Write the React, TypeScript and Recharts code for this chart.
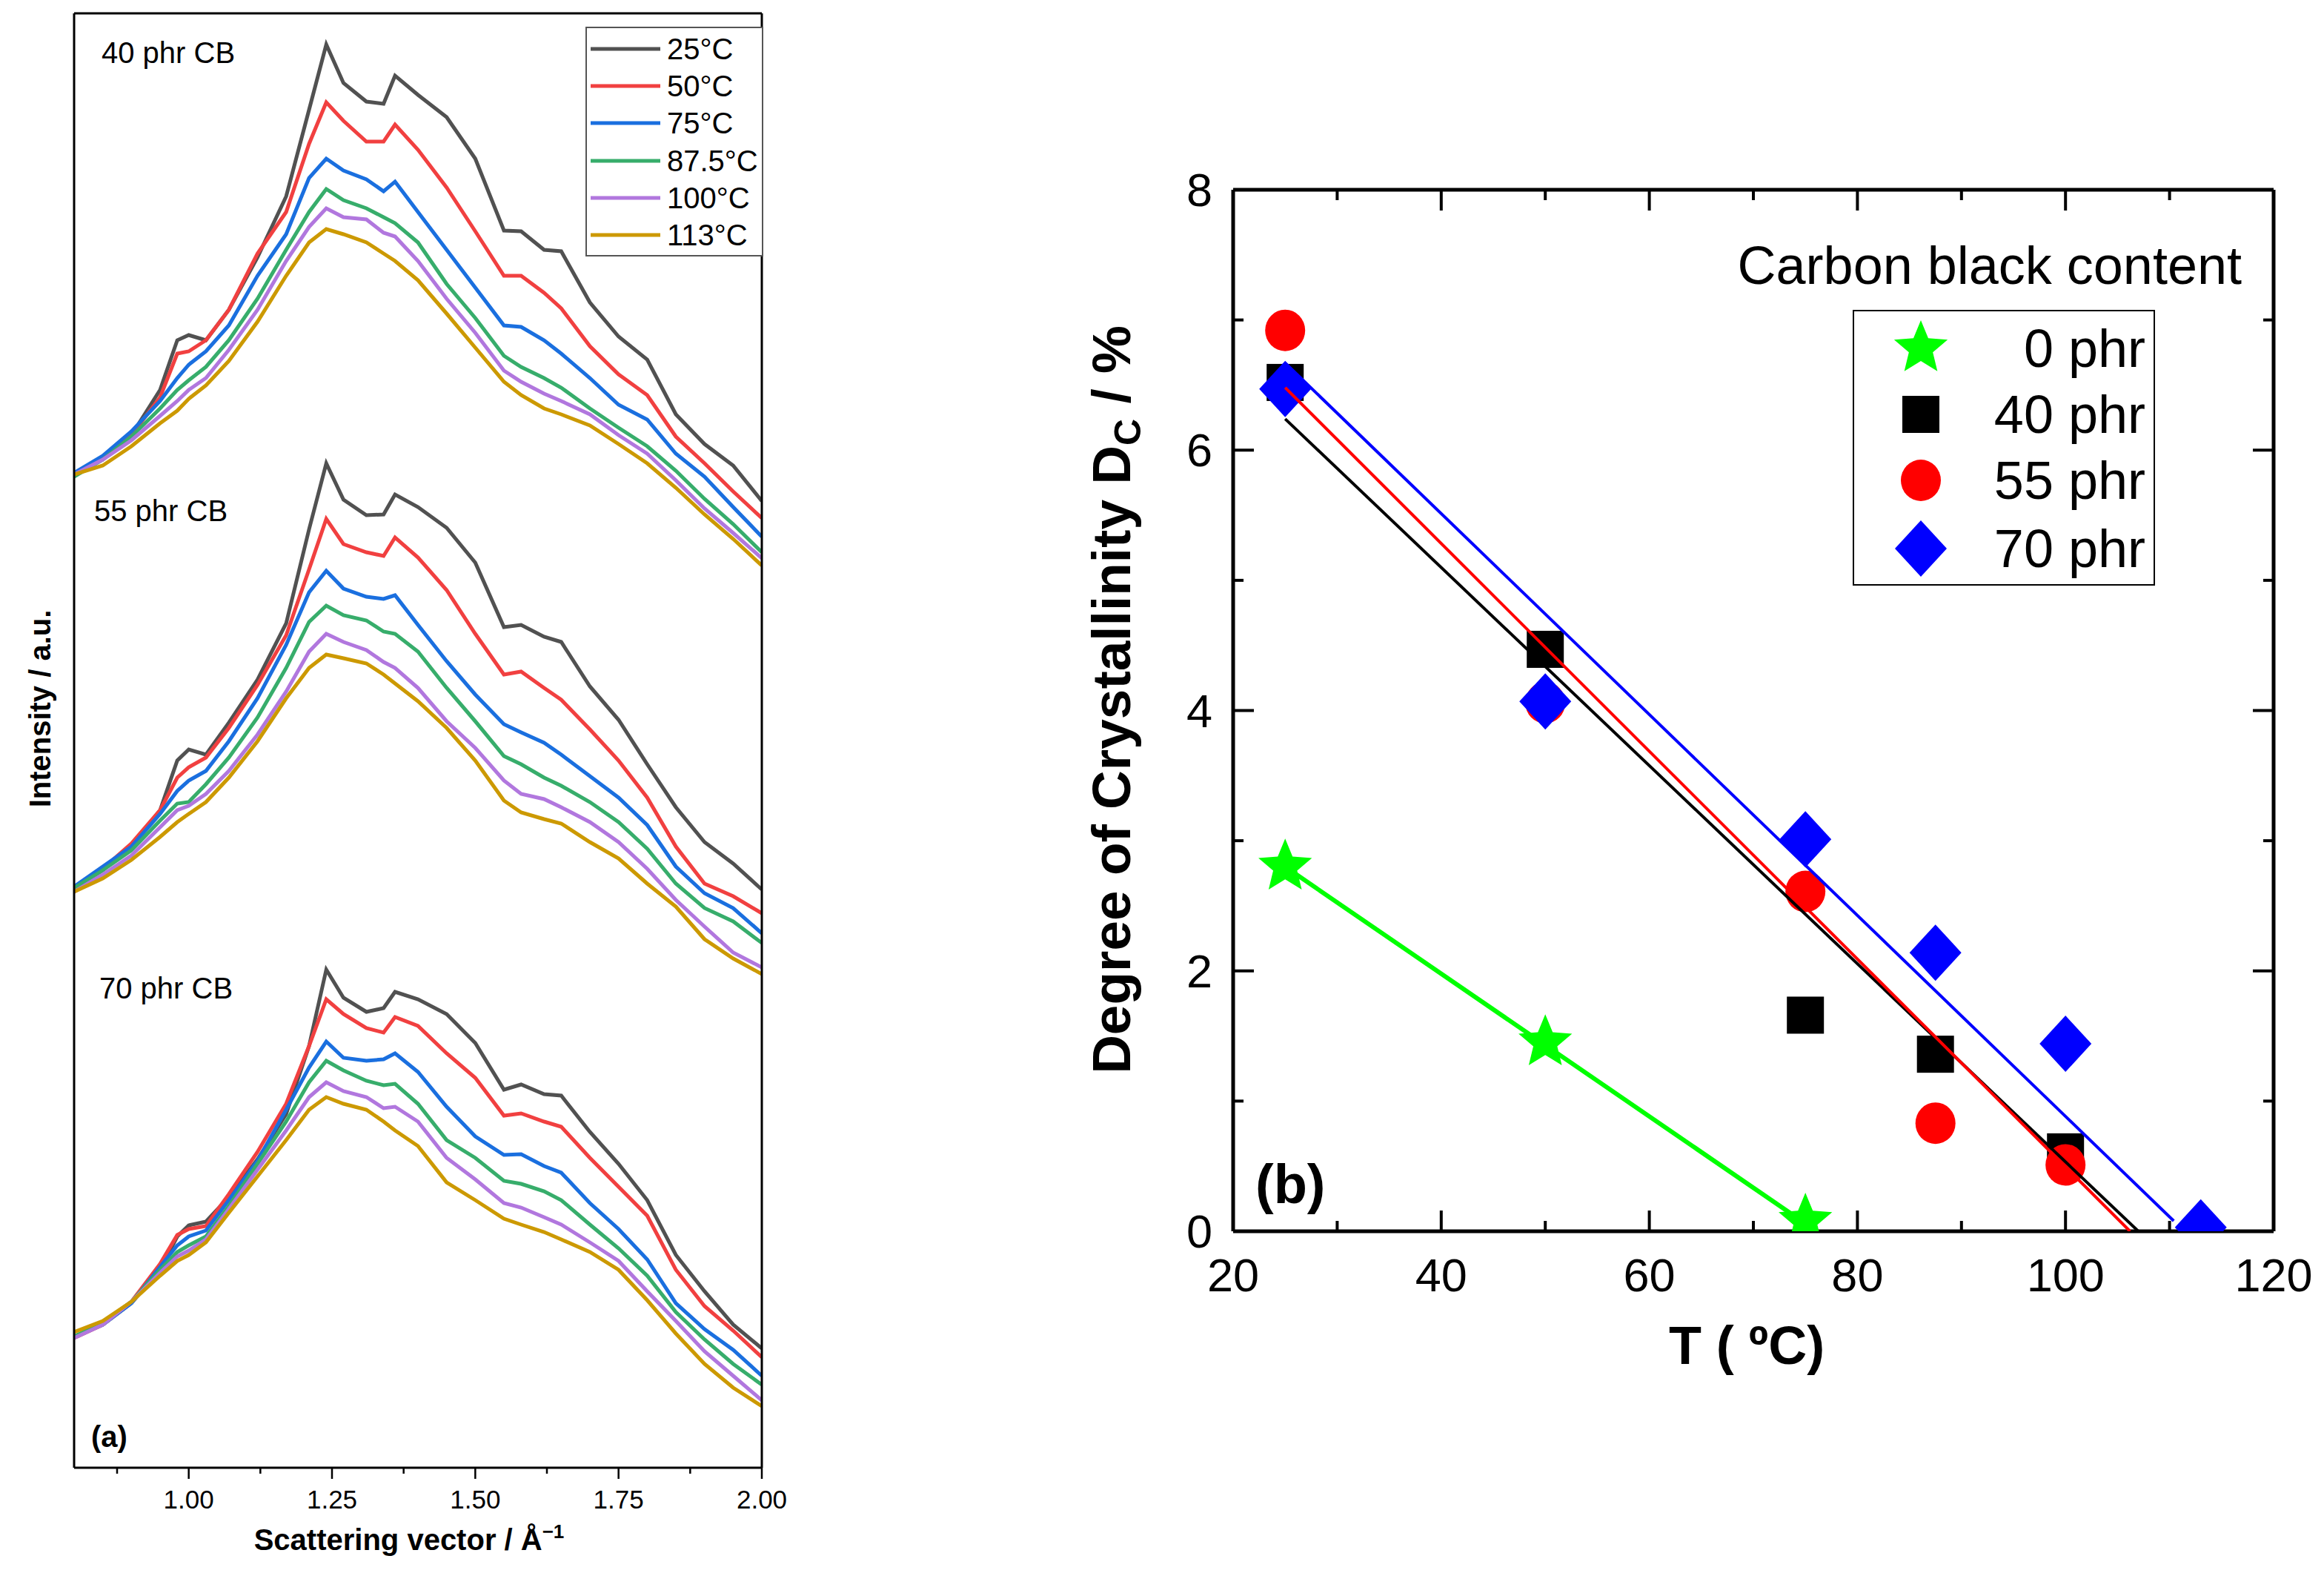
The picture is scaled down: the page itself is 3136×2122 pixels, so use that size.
import React from 'react';
import { LineChart, Line, ComposedChart, Scatter, XAxis, YAxis } from 'recharts';

// ---- panel (a): scattering vector grid and intensities (a.u.) ----
const Q = [0.80, 0.85, 0.90, 0.95, 0.98, 1.00, 1.03, 1.07, 1.12, 1.17, 1.21, 1.24, 1.27, 1.31, 1.34,
  1.36, 1.40, 1.45, 1.50, 1.55, 1.58, 1.62, 1.65, 1.70, 1.75, 1.80, 1.85, 1.90, 1.95, 2.00];

const CB40_25 = [1360, 1380, 1413, 1474, 1541, 1548, 1541, 1582, 1653, 1735, 1852, 1940, 1888, 1863, 1860, 1898, 1872, 1842, 1786, 1689, 1688, 1663, 1661, 1592, 1546, 1515, 1441, 1401, 1372, 1324];
const CB40_50 = [1360, 1380, 1413, 1464, 1523, 1526, 1541, 1582, 1658, 1714, 1806, 1862, 1837, 1809, 1809, 1832, 1798, 1747, 1688, 1628, 1628, 1605, 1584, 1533, 1495, 1467, 1411, 1375, 1337, 1301];
const CB40_75 = [1362, 1385, 1418, 1459, 1490, 1508, 1526, 1561, 1628, 1684, 1760, 1786, 1770, 1758, 1742, 1755, 1714, 1663, 1612, 1561, 1559, 1541, 1523, 1490, 1454, 1434, 1388, 1357, 1316, 1276];
const CB40_87 = [1357, 1380, 1411, 1449, 1474, 1487, 1505, 1541, 1597, 1663, 1714, 1745, 1730, 1719, 1707, 1699, 1673, 1617, 1571, 1520, 1505, 1490, 1477, 1449, 1423, 1398, 1365, 1327, 1293, 1255];
const CB40_100 = [1360, 1380, 1406, 1439, 1459, 1474, 1490, 1528, 1582, 1648, 1694, 1719, 1707, 1704, 1686, 1681, 1648, 1597, 1551, 1500, 1485, 1469, 1459, 1441, 1413, 1388, 1352, 1314, 1281, 1247];
const CB40_113 = [1360, 1372, 1398, 1429, 1446, 1462, 1480, 1513, 1566, 1628, 1673, 1691, 1684, 1673, 1658, 1648, 1622, 1577, 1531, 1485, 1467, 1449, 1441, 1426, 1401, 1375, 1342, 1306, 1273, 1237];

const CB55_25 = [802, 826, 858, 907, 974, 989, 982, 1025, 1083, 1159, 1286, 1375, 1326, 1305, 1306, 1333, 1316, 1288, 1241, 1154, 1157, 1141, 1134, 1074, 1029, 969, 911, 864, 835, 800];
const CB55_50 = [802, 828, 862, 907, 951, 965, 978, 1018, 1076, 1143, 1232, 1300, 1266, 1255, 1250, 1275, 1248, 1204, 1145, 1090, 1094, 1072, 1056, 1016, 974, 924, 858, 808, 791, 768];
const CB55_75 = [804, 831, 858, 902, 933, 947, 960, 1000, 1058, 1130, 1201, 1230, 1206, 1195, 1192, 1197, 1157, 1108, 1063, 1023, 1012, 998, 982, 953, 924, 887, 831, 795, 775, 741];
const CB55_87 = [802, 826, 853, 893, 916, 918, 942, 978, 1032, 1099, 1161, 1183, 1170, 1163, 1148, 1145, 1121, 1072, 1027, 980, 969, 951, 940, 918, 891, 855, 808, 775, 757, 728];
const CB55_100 = [797, 820, 846, 884, 907, 913, 929, 960, 1009, 1067, 1121, 1145, 1134, 1123, 1107, 1099, 1072, 1027, 991, 947, 929, 922, 911, 891, 864, 828, 786, 750, 715, 695];
const CB55_113 = [797, 815, 840, 871, 891, 902, 918, 951, 1000, 1058, 1099, 1117, 1112, 1105, 1090, 1078, 1054, 1018, 974, 920, 904, 895, 889, 864, 842, 808, 777, 733, 707, 686];

const CB70_25 = [197, 213, 242, 287, 332, 347, 352, 385, 436, 497, 589, 692, 654, 635, 640, 662, 652, 632, 593, 530, 537, 524, 522, 473, 430, 381, 307, 258, 213, 181];
const CB70_50 = [195, 213, 244, 295, 334, 342, 346, 389, 446, 511, 589, 652, 632, 613, 607, 628, 616, 579, 546, 495, 498, 487, 480, 438, 399, 360, 287, 238, 205, 169];
const CB70_75 = [197, 213, 242, 291, 320, 332, 340, 381, 434, 503, 560, 595, 573, 569, 571, 579, 554, 507, 467, 442, 443, 427, 418, 377, 342, 301, 242, 207, 179, 144];
const CB70_87 = [197, 216, 244, 287, 311, 320, 332, 373, 430, 487, 540, 569, 556, 542, 536, 538, 511, 462, 438, 407, 403, 393, 381, 348, 316, 279, 230, 193, 160, 132];
const CB70_100 = [195, 213, 244, 283, 305, 313, 328, 369, 422, 475, 520, 540, 528, 520, 505, 507, 487, 438, 409, 377, 371, 358, 348, 324, 299, 258, 218, 177, 144, 111];
const CB70_113 = [203, 218, 244, 279, 299, 307, 324, 364, 413, 462, 503, 520, 511, 503, 487, 475, 454, 405, 381, 356, 348, 338, 328, 311, 287, 246, 201, 160, 128, 103];

const TEMPS = ['25°C', '50°C', '75°C', '87.5°C', '100°C', '113°C'];
const TEMP_COLORS = ['#515151', '#F14040', '#1A6FDF', '#37AD6B', '#B177DE', '#CC9900'];
const Q_TICKS = [0.875, 1.0, 1.125, 1.25, 1.375, 1.5, 1.625, 1.75, 1.875, 2.0];
const Q_LABELS = [1.0, 1.25, 1.5, 1.75, 2.0];

// ---- panel (b): degree of crystallinity vs temperature ----
const T_0 = [25, 50, 75];
const DC_0 = [2.8, 1.45, 0.08];
const T_40 = [25, 50, 75, 87.5, 100];
const DC_40 = [6.52, 4.47, 1.66, 1.36, 0.61];
const T_55 = [25, 50, 75, 87.5, 100];
const DC_55 = [6.92, 4.06, 2.61, 0.83, 0.51];
const T_70 = [25, 50, 75, 87.5, 100, 113];
const DC_70 = [6.47, 4.07, 3.01, 2.14, 1.44, 0.03];

const FIT_T_0 = [25, 75];
const FIT_DC_0 = [2.8, 0.06];
const FIT_T_40 = [25, 107];
const FIT_DC_40 = [6.24, 0];
const FIT_T_55 = [25, 106.2];
const FIT_DC_55 = [6.48, 0];
const FIT_T_70 = [25, 110.4];
const FIT_DC_70 = [6.67, 0.08];

const T_TICKS = [20, 30, 40, 50, 60, 70, 80, 90, 100, 110, 120];
const DC_TICKS = [0, 1, 2, 3, 4, 5, 6, 7, 8];

const FONT = '"Liberation Sans", Arial, Helvetica, sans-serif';

const groups = [
  { id: '40', values: [CB40_25, CB40_50, CB40_75, CB40_87, CB40_100, CB40_113] },
  { id: '55', values: [CB55_25, CB55_50, CB55_75, CB55_87, CB55_100, CB55_113] },
  { id: '70', values: [CB70_25, CB70_50, CB70_75, CB70_87, CB70_100, CB70_113] },
];

const rowsA = Q.map((q, i) => {
  const row: Record<string, number> = { q };
  groups.forEach((g) => g.values.forEach((arr, k) => { row[`c${g.id}_${k}`] = arr[i]; }));
  return row;
});

const pts = (ts: number[], ds: number[]) => ts.map((t, i) => ({ t, d: ds[i] }));

// plot area edges (chart coordinates)
const A_BOTTOM = 1980;
const B_LEFT = 264;
const B_RIGHT = 1668;
const B_TOP = 256;
const B_BOTTOM = 1661;

const starPoints = (cx: number, cy: number, R: number, r: number) => {
  const p: string[] = [];
  for (let k = 0; k < 10; k++) {
    const a = -Math.PI / 2 + (k * Math.PI) / 5;
    const rad = k % 2 === 0 ? R : r;
    p.push(`${cx + rad * Math.cos(a)},${cy + rad * Math.sin(a)}`);
  }
  return p.join(' ');
};

const Star = ({ cx, cy }: any) => <polygon points={starPoints(cx, cy, 38, 17)} fill="#00FF00" />;
const Square = ({ cx, cy }: any) => <rect x={cx - 25} y={cy - 25} width={50} height={50} fill="#000" />;
const Circle = ({ cx, cy }: any) => <ellipse cx={cx} cy={cy} rx={27} ry={28} fill="#FF0000" />;
const Diamond = ({ cx, cy }: any) => (
  <polygon points={`${cx},${cy - 38} ${cx + 35},${cy} ${cx},${cy + 38} ${cx - 35},${cy}`} fill="#0000FF" />
);
const NoDot = () => <g />;

const QTick = ({ x, payload }: any) => {
  const major = Q_LABELS.some((v) => Math.abs(v - payload.value) < 1e-6);
  return (
    <g>
      <line x1={x} x2={x} y1={A_BOTTOM} y2={A_BOTTOM + (major ? 15 : 8)} stroke="#000" strokeWidth={2.5} />
      {major && (
        <text x={x} y={2022} textAnchor="middle" dominantBaseline="central" fontSize={35} fontFamily={FONT} fill="#000">
          {payload.value.toFixed(2)}
        </text>
      )}
    </g>
  );
};

const TBottomTick = ({ x, payload }: any) => {
  const major = payload.value % 20 === 0;
  return (
    <g>
      <line x1={x} x2={x} y1={B_BOTTOM} y2={B_BOTTOM - (major ? 28 : 14)} stroke="#000" strokeWidth={4} />
      {major && (
        <text x={x} y={1720} textAnchor="middle" dominantBaseline="central" fontSize={63} fontFamily={FONT} fill="#000">
          {payload.value}
        </text>
      )}
    </g>
  );
};
const TTopTick = ({ x, payload }: any) => {
  const major = payload.value % 20 === 0;
  return <line x1={x} x2={x} y1={B_TOP} y2={B_TOP + (major ? 28 : 14)} stroke="#000" strokeWidth={4} />;
};
const DLeftTick = ({ y, payload }: any) => {
  const major = payload.value % 2 === 0;
  return (
    <g>
      <line x1={B_LEFT} x2={B_LEFT + (major ? 28 : 14)} y1={y} y2={y} stroke="#000" strokeWidth={4} />
      {major && (
        <text x={B_LEFT - 28} y={y} textAnchor="end" dominantBaseline="central" fontSize={63} fontFamily={FONT} fill="#000">
          {payload.value}
        </text>
      )}
    </g>
  );
};
const DRightTick = ({ y, payload }: any) => {
  const major = payload.value % 2 === 0;
  return <line x1={B_RIGHT} x2={B_RIGHT - (major ? 28 : 14)} y1={y} y2={y} stroke="#000" strokeWidth={4} />;
};

const abs = (left: number, top: number, extra: React.CSSProperties = {}): React.CSSProperties => ({
  position: 'absolute', left, top, whiteSpace: 'nowrap', lineHeight: 1, fontFamily: FONT, color: '#000', ...extra,
});

const PanelA = () => (
  <div style={{ position: 'absolute', left: 0, top: 0 }}>
    <LineChart width={1100} height={2122} data={rowsA} margin={{ top: 17, right: 71, bottom: 82, left: 99 }}>
      <XAxis xAxisId="b" dataKey="q" type="number" domain={[0.8, 2.0]} allowDataOverflow ticks={Q_TICKS} interval={0}
        tick={<QTick />} tickLine={false} axisLine={{ stroke: '#000', strokeWidth: 3 }} height={60} />
      <XAxis xAxisId="t" orientation="top" dataKey="q" type="number" domain={[0.8, 2.0]} allowDataOverflow
        tick={false} tickLine={false} axisLine={{ stroke: '#000', strokeWidth: 3 }} height={1} />
      <YAxis yAxisId="l" type="number" domain={[20, 1982]} allowDataOverflow tick={false} tickLine={false}
        axisLine={{ stroke: '#000', strokeWidth: 3 }} width={1} />
      <YAxis yAxisId="r" orientation="right" type="number" domain={[20, 1982]} allowDataOverflow tick={false}
        tickLine={false} axisLine={{ stroke: '#000', strokeWidth: 3 }} width={1} />
      {groups.map((g) =>
        TEMPS.map((t, k) => (
          <Line key={`${g.id}-${k}`} xAxisId="b" yAxisId="l" type="linear" dataKey={`c${g.id}_${k}`}
            stroke={TEMP_COLORS[k]} strokeWidth={5} dot={false} isAnimationActive={false} />
        )),
      )}
    </LineChart>

    <div style={abs(137, 71, { fontSize: 40, transform: 'translateY(-50%)' })}>40 phr CB</div>
    <div style={abs(127, 689, { fontSize: 40, transform: 'translateY(-50%)' })}>55 phr CB</div>
    <div style={abs(134, 1333, { fontSize: 40, transform: 'translateY(-50%)' })}>70 phr CB</div>
    <div style={abs(123, 1938, { fontSize: 40, fontWeight: 700, transform: 'translateY(-50%)' })}>(a)</div>

    <div style={{ position: 'absolute', left: 790, top: 36, width: 236, height: 306, border: '2px solid #555', background: '#fff' }}>
      {TEMPS.map((t, k) => (
        <div key={t} style={abs(0, 28 + k * 50.2 - 20, { height: 40, display: 'flex', alignItems: 'center' })}>
          <svg width={100} height={40} style={{ marginLeft: 3 }}>
            <line x1={2} x2={96} y1={20} y2={20} stroke={TEMP_COLORS[k]} strokeWidth={5} />
          </svg>
          <span style={{ fontSize: 40, marginLeft: 5 }}>{t}</span>
        </div>
      ))}
    </div>

    <div style={abs(54, 956, { fontSize: 40, fontWeight: 700, transform: 'translate(-50%,-50%) rotate(-90deg)' })}>
      Intensity / a.u.
    </div>
    <div style={abs(552, 2077, { fontSize: 40, fontWeight: 700, transform: 'translate(-50%,-50%)' })}>
      Scattering vector / Å<sup style={{ fontSize: 26, verticalAlign: 'top', position: 'relative', top: -4 }}>−1</sup>
    </div>
  </div>
);

const PanelB = () => (
  <div style={{ position: 'absolute', left: 1400, top: 0 }}>
    <ComposedChart width={1736} height={2122} margin={{ top: B_TOP - 1, right: 1736 - B_RIGHT - 1, bottom: 2122 - B_BOTTOM - 1, left: B_LEFT - 1 }}>
      <XAxis xAxisId="b" dataKey="t" type="number" domain={[20, 120]} allowDataOverflow ticks={T_TICKS} interval={0}
        tick={<TBottomTick />} tickLine={false} axisLine={{ stroke: '#000', strokeWidth: 5 }} height={1} />
      <XAxis xAxisId="t" orientation="top" dataKey="t" type="number" domain={[20, 120]} allowDataOverflow ticks={T_TICKS}
        interval={0} tick={<TTopTick />} tickLine={false} axisLine={{ stroke: '#000', strokeWidth: 5 }} height={1} />
      <YAxis yAxisId="l" dataKey="d" type="number" domain={[0, 8]} allowDataOverflow ticks={DC_TICKS} interval={0}
        tick={<DLeftTick />} tickLine={false} axisLine={{ stroke: '#000', strokeWidth: 5 }} width={1} />
      <YAxis yAxisId="r" orientation="right" dataKey="d" type="number" domain={[0, 8]} allowDataOverflow ticks={DC_TICKS}
        interval={0} tick={<DRightTick />} tickLine={false} axisLine={{ stroke: '#000', strokeWidth: 5 }} width={1} />

      <Scatter xAxisId="b" yAxisId="l" data={pts(T_0, DC_0)} shape={Star} isAnimationActive={false} />
      <Scatter xAxisId="b" yAxisId="l" data={pts(T_40, DC_40)} shape={Square} isAnimationActive={false} />
      <Scatter xAxisId="b" yAxisId="l" data={pts(T_55, DC_55)} shape={Circle} isAnimationActive={false} />
      <Scatter xAxisId="b" yAxisId="l" data={pts(T_70, DC_70)} shape={Diamond} isAnimationActive={false} />

      <Scatter xAxisId="b" yAxisId="l" data={pts(FIT_T_0, FIT_DC_0)} shape={NoDot} line={{ stroke: '#00FF00', strokeWidth: 6 }} isAnimationActive={false} />
      <Scatter xAxisId="b" yAxisId="l" data={pts(FIT_T_40, FIT_DC_40)} shape={NoDot} line={{ stroke: '#000000', strokeWidth: 4 }} isAnimationActive={false} />
      <Scatter xAxisId="b" yAxisId="l" data={pts(FIT_T_55, FIT_DC_55)} shape={NoDot} line={{ stroke: '#FF0000', strokeWidth: 4 }} isAnimationActive={false} />
      <Scatter xAxisId="b" yAxisId="l" data={pts(FIT_T_70, FIT_DC_70)} shape={NoDot} line={{ stroke: '#0000FF', strokeWidth: 4 }} isAnimationActive={false} />
    </ComposedChart>

    <div style={abs(1625, 358, { fontSize: 72, transform: 'translate(-100%,-50%)' })}>Carbon black content</div>
    <div style={{ position: 'absolute', left: 1100, top: 418, width: 404, height: 368, border: '2px solid #000', background: '#fff' }}>
      {[
        { label: '0 phr', M: Star, y: 50 },
        { label: '40 phr', M: Square, y: 139 },
        { label: '55 phr', M: Circle, y: 228 },
        { label: '70 phr', M: Diamond, y: 320 },
      ].map(({ label, M, y }) => (
        <React.Fragment key={label}>
          <svg width={100} height={100} style={{ position: 'absolute', left: 40, top: y - 50 }}>
            <M cx={50} cy={50} />
          </svg>
          <div style={abs(393, y, { fontSize: 72, transform: 'translate(-100%,-50%)' })}>{label}</div>
        </React.Fragment>
      ))}
    </div>

    <div style={abs(294, 1598, { fontSize: 74, fontWeight: 700, transform: 'translateY(-50%)' })}>(b)</div>
    <div style={abs(957, 1815, { fontSize: 72, fontWeight: 700, transform: 'translate(-50%,-50%)' })}>T ( ºC)</div>
    <div style={abs(99, 944, { fontSize: 73, fontWeight: 700, transform: 'translate(-50%,-50%) rotate(-90deg)' })}>
      Degree of Crystallinity D<span style={{ fontSize: 50, position: 'relative', top: 14 }}>C</span> / %
    </div>
  </div>
);

export default function App() {
  return (
    <div style={{ position: 'absolute', left: 0, top: 0, width: 3136, height: 2122, background: '#fff', overflow: 'hidden' }}>
      <PanelA />
      <PanelB />
    </div>
  );
}
